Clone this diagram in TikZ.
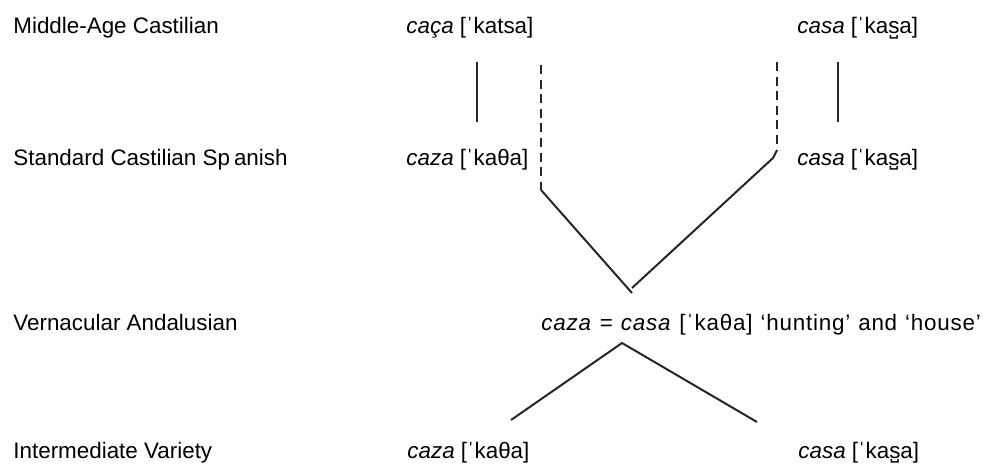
\documentclass[tikz,border=0pt]{standalone}
\usepackage{fontspec}
\setmainfont{Liberation Sans}
\newcommand{\sap}{s̺}
\begin{document}
\begin{tikzpicture}[x=0.5pt,y=-0.5pt,
  txt/.style={anchor=base west, inner sep=0pt, text=black, font=\fontsize{11.2}{13}\selectfont},
  ln/.style={line width=1pt, black!85},
  dsh/.style={ln, dash pattern=on 4.5pt off 2.8pt}]
\useasboundingbox (0,0) rectangle (983,465);
% row labels
\node[txt] (l1) at (13,34) {Middle-Age Castilian};
\node[txt] (l2) at (13,165) {Standard Castilian Sp\kern2pt anish};
\node[txt] (l3) at (13,330) {Vernacular Andalusian};
\node[txt] (l4) at (13,458) {Intermediate Variety};
% forms
\node[txt] (a1) at (406,34) {\textit{caça} [ˈkatsa]};
\node[txt] (b1) at (797,34) {\textit{casa} [ˈka\sap a]};
\node[txt] (a2) at (406,165) {\textit{caza} [ˈkaθa]};
\node[txt] (b2) at (797,165) {\textit{casa} [ˈka\sap a]};
\node[txt] (c3) at (541,330) {\addfontfeature{LetterSpace=3.5}\spaceskip=4pt\textit{caza} = \textit{casa} [ˈkaθa] ‘hunting’ and ‘house’};
\node[txt] (a4) at (407,458) {\textit{caza} [ˈkaθa]};
\node[txt] (b4) at (798,458) {\textit{casa} [ˈka\sap a]};
% coordinates
\coordinate (sl1) at (477,62);  \coordinate (sl2) at (477,122);
\coordinate (sr1) at (838,62);  \coordinate (sr2) at (838,122);
\coordinate (dl1) at (541,65);  \coordinate (dl2) at (541,190);
\coordinate (dr1) at (777,62);  \coordinate (dr2) at (777,150);
\coordinate (dr3) at (773,158);
\coordinate (m) at (632,293);  \coordinate (m2) at (632,288);
\coordinate (ap) at (622,343);
\coordinate (e1) at (511,420); \coordinate (e2) at (757,422);
% connectors
\draw[ln] (sl1) -- (sl2);
\draw[ln] (sr1) -- (sr2);
\draw[dsh] (dl1) -- (dl2);
\draw[ln] (dl2) -- (m);
\draw[dsh] (dr1) -- (dr2);
\draw[ln] (dr2) -- (dr3) -- (m2);
\draw[ln] (e1) -- (ap) -- (e2);
\end{tikzpicture}
\end{document}
